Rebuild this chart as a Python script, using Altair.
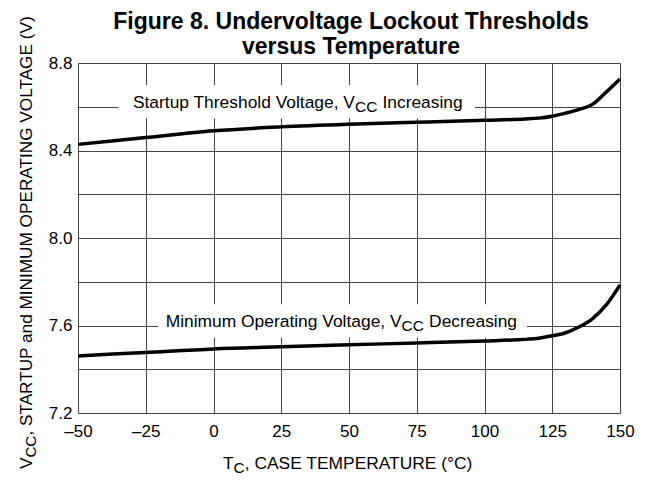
import altair as alt
import pandas as pd

# ---- data ----
temps = [-50, -25, 0, 25, 50, 75, 100, 115, 120, 125, 130, 135, 140, 145, 150]
startup_v = [8.428, 8.459, 8.490, 8.508, 8.520, 8.529, 8.538, 8.544, 8.548, 8.557,
             8.571, 8.588, 8.612, 8.668, 8.727]
minop_v = [7.461, 7.477, 7.493, 7.503, 7.512, 7.520, 7.529, 7.537, 7.542, 7.553,
           7.567, 7.594, 7.633, 7.695, 7.786]

x_ticks = [-50, -25, 0, 25, 50, 75, 100, 125, 150]
y_grid = [7.2, 7.4, 7.6, 7.8, 8.0, 8.2, 8.4, 8.6, 8.8]
y_labeled = ["7.2", "7.6", "8.0", "8.4", "8.8"]

# curve annotations (data coordinates)
label_pre = ["Startup Threshold Voltage, V", "Minimum Operating Voltage, V"]
label_sub = ["CC", "CC"]
label_post = ["Increasing", "Decreasing"]
label_x = [52.2, 69.4]
label_y = [8.595, 7.595]
box_x = [-35.2, -20.5]
box_x2 = [96.5, 115.7]
box_y = [8.548, 7.545]
box_y2 = [8.700, 7.697]

title_lines = ["Figure 8. Undervoltage Lockout Thresholds", "versus Temperature"]
ytitle_parts = ["V", "CC", ", STARTUP and MINIMUM OPERATING VOLTAGE (V)"]
xtitle_parts = ["T", "C", ", CASE TEMPERATURE (\u00b0C)"]

FONT = "Liberation Sans"
BOLD = "Liberation Sans"

W, H = 542, 350

curves = pd.DataFrame({
    "T": temps * 2,
    "V": startup_v + minop_v,
    "curve": ["Startup"] * len(temps) + ["MinOp"] * len(temps),
})
ann = pd.DataFrame({
    "pre": label_pre, "sub": label_sub, "post": label_post,
    "x": label_x, "y": label_y,
    "bx": box_x, "bx2": box_x2, "by": box_y, "by2": box_y2,
})

xs = alt.Scale(domain=[-50, 150], nice=False, zero=False)
ys = alt.Scale(domain=[7.2, 8.8], nice=False, zero=False)

lab_expr = "indexof(" + str(y_labeled) + ", datum.label) >= 0 ? datum.label : ''"

x_axis = alt.Axis(values=x_ticks, title=None, grid=True, domain=False, ticks=False,
                  labelFont=FONT, labelFontSize=17, labelColor="black", labelPadding=10,
                  labelExpr="datum.value < 0 ? '\u2013' + abs(datum.value) : datum.label",
                  gridColor="#444", gridWidth=1, labelFlush=False)
y_axis = alt.Axis(values=y_grid, title=None, grid=True, domain=False, ticks=False,
                  format=".1f", labelExpr=lab_expr,
                  labelFont=FONT, labelFontSize=17, labelColor="black", labelPadding=6,
                  gridColor="#444", gridWidth=1)

lines = alt.Chart(curves).mark_line(color="black", strokeWidth=3.5, interpolate="monotone").encode(
    x=alt.X("T:Q", scale=xs, axis=x_axis),
    y=alt.Y("V:Q", scale=ys, axis=y_axis),
    detail="curve:N",
)

base_ann = alt.Chart(ann)
boxes = base_ann.mark_rect(color="white").encode(
    x=alt.X("bx:Q", scale=xs), x2="bx2:Q",
    y=alt.Y("by:Q", scale=ys), y2="by2:Q",
)
pre = base_ann.mark_text(align="right", baseline="alphabetic", font=FONT, fontSize=17.4, color="black").encode(
    x=alt.X("x:Q", scale=xs), y=alt.Y("y:Q", scale=ys), text="pre:N")
sub = base_ann.mark_text(align="left", baseline="alphabetic", font=FONT, fontSize=15.5, dy=4, color="black").encode(
    x=alt.X("x:Q", scale=xs), y=alt.Y("y:Q", scale=ys), text="sub:N")
post = base_ann.mark_text(align="left", baseline="alphabetic", font=FONT, fontSize=17.4, dx=27.5, color="black").encode(
    x=alt.X("x:Q", scale=xs), y=alt.Y("y:Q", scale=ys), text="post:N")

one = alt.Data(values=[{}])

def txt(s, x, y, size, font=FONT, weight="normal", align="left", angle=0, dx=0, dy=0):
    return alt.Chart(one).mark_text(
        text=s, font=font, fontSize=size, fontWeight=weight, align=align,
        baseline="alphabetic", angle=angle, dx=dx, dy=dy, color="black"
    ).encode(x=alt.value(x), y=alt.value(y))

title1 = txt(title_lines[0], 273, -34, 23, font=BOLD, weight="bold", align="center")
title2 = txt(title_lines[1], 273, -9, 23, font=BOLD, weight="bold", align="center")

yt1 = txt(ytitle_parts[0], -46, 406, 17.2, angle=270)
yt2 = txt(ytitle_parts[1], -46, 406, 15.2, angle=270, dx=11.4, dy=4)
yt3 = txt(ytitle_parts[2], -46, 406, 17.2, angle=270, dx=33.4)

xt1 = txt(xtitle_parts[0], 145, 406, 17.4)
xt2 = txt(xtitle_parts[1], 145, 406, 15.5, dx=10.6, dy=4)
xt3 = txt(xtitle_parts[2], 145, 406, 17.4, dx=21.8)

chart = alt.layer(
    lines, boxes, pre, sub, post, title1, title2, yt1, yt2, yt3, xt1, xt2, xt3
).properties(
    width=W, height=H,
    autosize=alt.AutoSizeParams(type="none"),
    padding={"left": 70, "top": 55, "right": 27, "bottom": 64},
).configure_view(
    stroke="#333", strokeWidth=1.5
).configure(background="white")

chart.save("out.html", embed_options={"renderer": "svg", "actions": False})
